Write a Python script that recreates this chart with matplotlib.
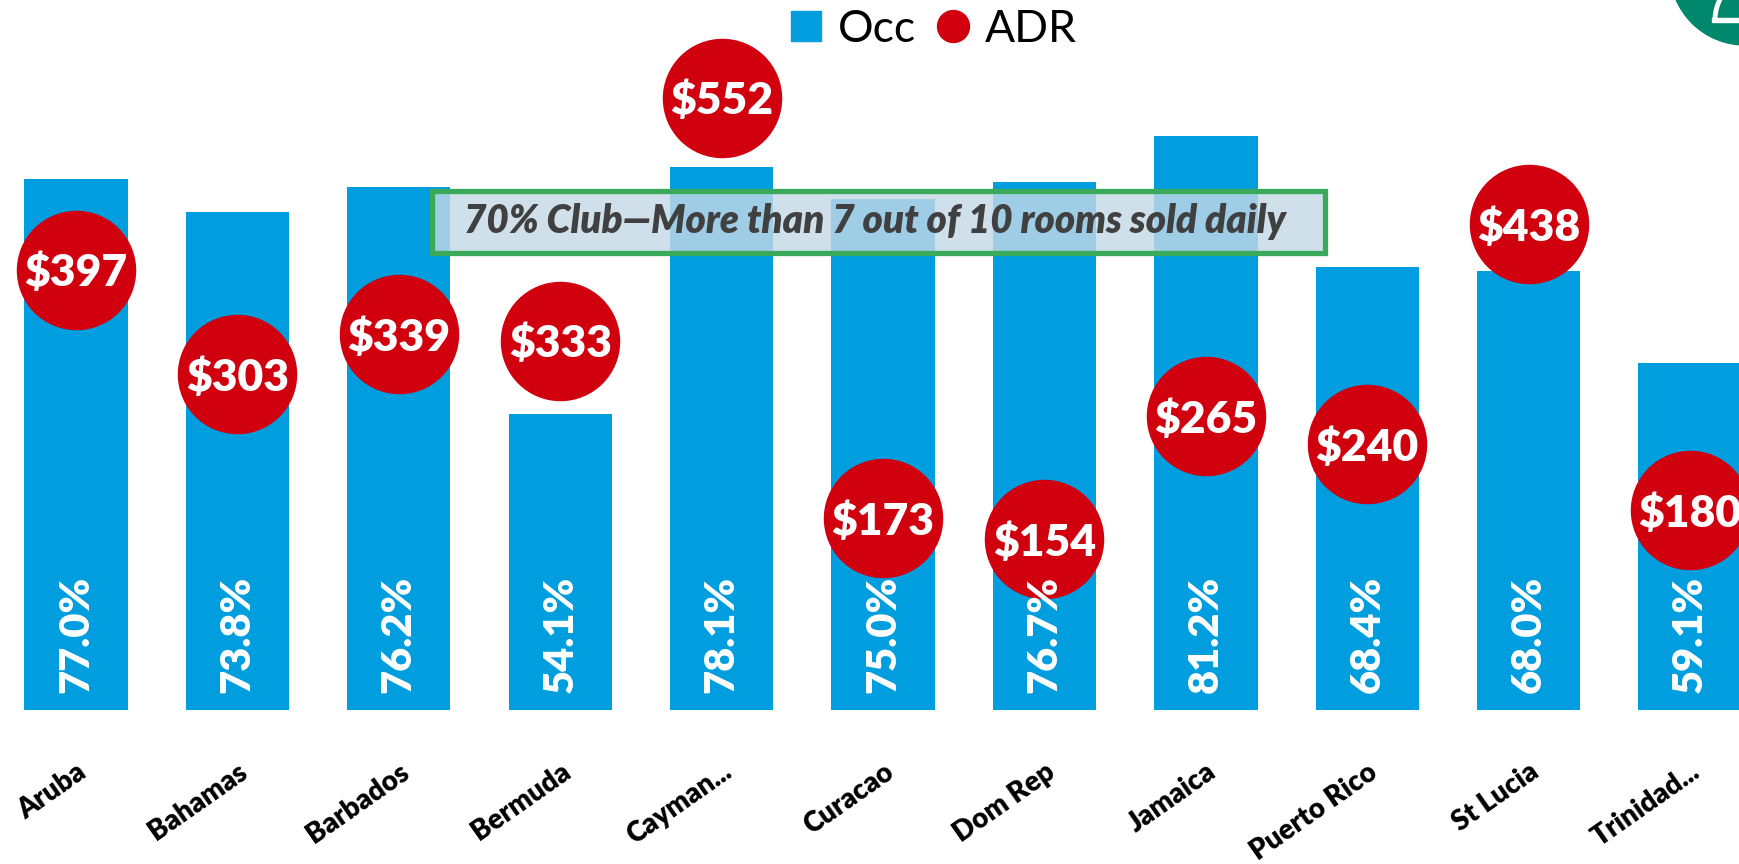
import matplotlib
matplotlib.use("agg")

import numpy as np
import matplotlib.pyplot as plt
from matplotlib.lines import Line2D
from matplotlib.patches import Rectangle, Circle, Arc

plt.rcParams["font.family"] = ["Lato", "DejaVu Sans"]

countries = ["Aruba", "Bahamas", "Barbados", "Bermuda", "Cayman...", "Curacao",
             "Dom Rep", "Jamaica", "Puerto Rico", "St Lucia", "Trinidad..."]
occ = [77.0, 73.8, 76.2, 54.1, 78.1, 75.0, 76.7, 81.2, 68.4, 68.0, 59.1]
adr = [397, 303, 339, 333, 552, 173, 154, 265, 240, 438, 180]

BLUE = "#009ddf"
RED = "#d0000f"
GREEN = "#3aaa5a"
W = "heavy"

fig = plt.figure(figsize=(17.39, 8.64), dpi=100)
ax = fig.add_axes([0, 154 / 864, 1, 710 / 864])
x = np.arange(len(countries))

ax.bar(x, occ, width=0.64, color=BLUE, zorder=2)
ax.set_xlim(-0.471, 10.303)
ax.set_ylim(25.3, 94.4)
ax.set_yticks([])
ax.set_xticks(x)
ax.set_xticklabels(countries, rotation=35, ha="right", rotation_mode="anchor",
                   fontsize=20, fontweight=W)
ax.tick_params(axis="x", length=0, pad=35)
for s in ax.spines.values():
    s.set_visible(False)

# ADR bubbles on a second scale
ax2 = ax.twinx()
ax2.set_ylim(0, 640)
ax2.set_yticks([])
for s in ax2.spines.values():
    s.set_visible(False)
ax2.plot(x, adr, linestyle="", marker="o", markersize=85, color=RED, zorder=3)
for xi, v in zip(x, adr):
    ax2.text(xi, v, f"${v}", ha="center", va="center_baseline", color="white",
             fontsize=32, fontweight=W, parse_math=False, zorder=4)

# occupancy labels inside bars
for xi, v in zip(x, occ):
    ax2.annotate(f"{v:.1f}%", xy=(xi, 25.3), xycoords=ax.transData,
                 xytext=(0, 12), textcoords="offset points", rotation=90,
                 ha="center", va="bottom", color="white", fontsize=30,
                 fontweight=W, zorder=5)

# 70% club callout
fig.add_artist(Rectangle((432 / 1739, 1 - 253 / 864), 893 / 1739, 62 / 864,
                         transform=fig.transFigure, facecolor="#c4d9e7", alpha=0.81,
                         edgecolor="none", zorder=5))
fig.add_artist(Rectangle((432 / 1739, 1 - 253 / 864), 893 / 1739, 62 / 864,
                         transform=fig.transFigure, facecolor="none",
                         edgecolor=GREEN, linewidth=3.8, zorder=6))
fig.text(464 / 1739, 1 - 222 / 864, "70% Club\u2014More than 7 out of 10 rooms sold daily",
         ha="left", va="center", fontsize=27.8, fontweight=W, style="italic",
         color="#404040", zorder=7)

# legend
handles = [Line2D([], [], linestyle="", marker="s", markersize=22, color=BLUE),
           Line2D([], [], linestyle="", marker="o", markersize=23, color=RED)]
fig.legend(handles, ["Occ", "ADR"], loc="center", bbox_to_anchor=(0.535, 1 - 29 / 864),
           ncol=2, frameon=False, fontsize=32, handlelength=1.0, handletextpad=0.2,
           columnspacing=0.35, borderpad=0)

# corner logo
fig.add_artist(Circle((17.45, 8.94), 0.75, transform=fig.dpi_scale_trans,
                      color="#00876c", zorder=8))
fig.add_artist(Arc((17.60, 8.44), 0.9, 0.9, theta1=90, theta2=180,
                   transform=fig.dpi_scale_trans, color="white", linewidth=3.5, zorder=9))
fig.add_artist(Rectangle((17.12, 8.42), 0.3, 0.04, transform=fig.dpi_scale_trans,
                         color="white", zorder=9))

fig.savefig("out.png", dpi=100)
